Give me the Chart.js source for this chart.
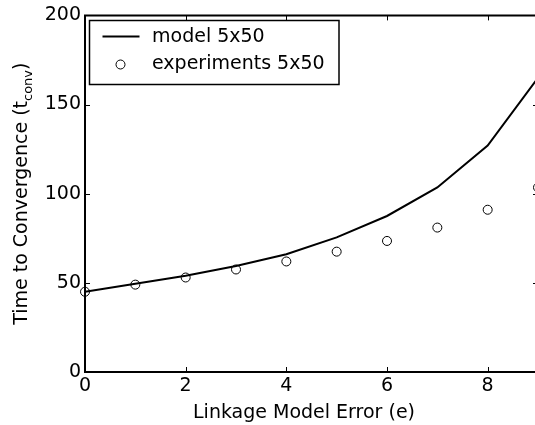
<!DOCTYPE html>
<html><head><meta charset="utf-8">
<script src="https://cdn.jsdelivr.net/npm/chart.js@4/dist/chart.umd.min.js"></script>
<style>
html,body{margin:0;padding:0;overflow:hidden;background:#fff}
#wrap{width:545px;height:425px;position:relative}
</style>
</head><body>
<div id="wrap"><canvas id="c"></canvas></div>
<script>
const errors = [0, 1, 2, 3, 4, 5, 6, 7, 8, 9];
const modelTimes = [45, 49.5, 54, 59.5, 66, 75.5, 87.5, 103.5, 127, 165];
const experimentTimes = [45, 49, 53, 57.5, 62, 67.5, 73.5, 81, 91, 103.5];
const xTicks = [0, 2, 4, 6, 8];
const yTicks = [0, 50, 100, 150, 200];
const seriesLabels = ['model 5x50', 'experiments 5x50'];
const xTitle = 'Linkage Model Error (e)';
const yTitleMain = 'Time to Convergence (t';
const yTitleSub = 'conv';
const yTitleEnd = ')';

const FONT = '"DejaVu Sans", sans-serif';

const framePlugin = {
  id: 'frame',
  afterDraw(chart) {
    const ctx = chart.ctx;
    const a = chart.chartArea;
    const xs = chart.scales.x, ys = chart.scales.y;
    ctx.save();
    ctx.strokeStyle = '#000';
    ctx.lineWidth = 2;
    ctx.beginPath();
    ctx.rect(a.left, a.top, a.right - a.left, a.bottom - a.top);
    ctx.stroke();
    // inward ticks
    ctx.lineWidth = 1;
    const tl = 5;
    ctx.beginPath();
    xTicks.forEach(v => {
      const px = Math.round(xs.getPixelForValue(v)) + 0.5;
      ctx.moveTo(px, a.bottom); ctx.lineTo(px, a.bottom - tl);
      ctx.moveTo(px, a.top); ctx.lineTo(px, a.top + tl);
    });
    yTicks.forEach(v => {
      const py = Math.round(ys.getPixelForValue(v)) + 0.5;
      ctx.moveTo(a.left, py); ctx.lineTo(a.left + tl, py);
      ctx.moveTo(a.right, py); ctx.lineTo(a.right - tl, py);
    });
    ctx.stroke();

    // axis titles
    ctx.fillStyle = '#000';
    ctx.font = '19px ' + FONT;
    ctx.textAlign = 'center';
    ctx.textBaseline = 'alphabetic';
    ctx.fillText(xTitle, 304, 418);

    // y title with subscript
    ctx.save();
    const cx = 27, cy = (a.top + a.bottom) / 2;
    ctx.translate(cx, cy);
    ctx.rotate(-Math.PI / 2);
    ctx.textAlign = 'left';
    const mainFont = '19px ' + FONT, subFont = '13px ' + FONT;
    ctx.font = mainFont; const w1 = ctx.measureText(yTitleMain).width;
    const w3 = ctx.measureText(yTitleEnd).width;
    ctx.font = subFont; const w2 = ctx.measureText(yTitleSub).width;
    let x0 = -(w1 + w2 + w3) / 2;
    ctx.font = mainFont; ctx.fillText(yTitleMain, x0, 0);
    ctx.font = subFont; ctx.fillText(yTitleSub, x0 + w1, 5);
    ctx.font = mainFont; ctx.fillText(yTitleEnd, x0 + w1 + w2, 0);
    ctx.restore();

    // legend
    const lx = 89.5, ly = 20.5, lw = 249.5, lh = 64;
    ctx.fillStyle = '#fff';
    ctx.fillRect(lx, ly, lw, lh);
    ctx.lineWidth = 1.5;
    ctx.strokeStyle = '#000';
    ctx.strokeRect(lx, ly, lw, lh);
    ctx.lineWidth = 2;
    ctx.beginPath();
    ctx.moveTo(102.5, 36.5); ctx.lineTo(139.5, 36.5);
    ctx.stroke();
    ctx.lineWidth = 1;
    ctx.beginPath();
    ctx.arc(120.5, 64.5, 4.5, 0, Math.PI * 2);
    ctx.stroke();
    ctx.fillStyle = '#000';
    ctx.font = '19px ' + FONT;
    ctx.textAlign = 'left';
    ctx.textBaseline = 'middle';
    ctx.fillText(chart.data.datasets[0].label, 152, 37);
    ctx.fillText(chart.data.datasets[1].label, 152, 64);
    ctx.restore();
  }
};

new Chart(document.getElementById('c'), {
  type: 'line',
  data: {
    datasets: [
      {
        label: seriesLabels[0],
        data: errors.map((e, i) => ({x: e, y: modelTimes[i]})),
        borderColor: '#000',
        borderWidth: 2,
        pointRadius: 0,
        tension: 0,
        fill: false
      },
      {
        label: seriesLabels[1],
        data: errors.map((e, i) => ({x: e, y: experimentTimes[i]})),
        showLine: false,
        borderColor: '#000',
        backgroundColor: 'rgba(0,0,0,0)',
        pointStyle: 'circle',
        pointRadius: 4.5,
        pointBorderWidth: 1,
        clip: false
      }
    ]
  },
  options: {
    responsive: true,
    maintainAspectRatio: false,
    animation: false,
    layout: {padding: {top: 15, right: 7, left: 0, bottom: 0}},
    plugins: {legend: {display: false}, tooltip: {enabled: false}},
    scales: {
      x: {
        type: 'linear', min: 0, max: 9,
        afterBuildTicks: s => { s.ticks = xTicks.map(v => ({value: v})); },
        afterFit: s => { s.height = 53; },
        grid: {display: false, drawTicks: false},
        border: {display: false},
        ticks: {color: '#000', font: {family: FONT, size: 19}, padding: 3, maxRotation: 0, autoSkip: false}
      },
      y: {
        type: 'linear', min: 0, max: 200,
        afterBuildTicks: s => { s.ticks = yTicks.map(v => ({value: v})); },
        afterFit: s => { s.width = 85; },
        grid: {display: false, drawTicks: false},
        border: {display: false},
        ticks: {color: '#000', font: {family: FONT, size: 19}, padding: 4, autoSkip: false}
      }
    }
  },
  plugins: [framePlugin]
});
</script>
</body></html>
